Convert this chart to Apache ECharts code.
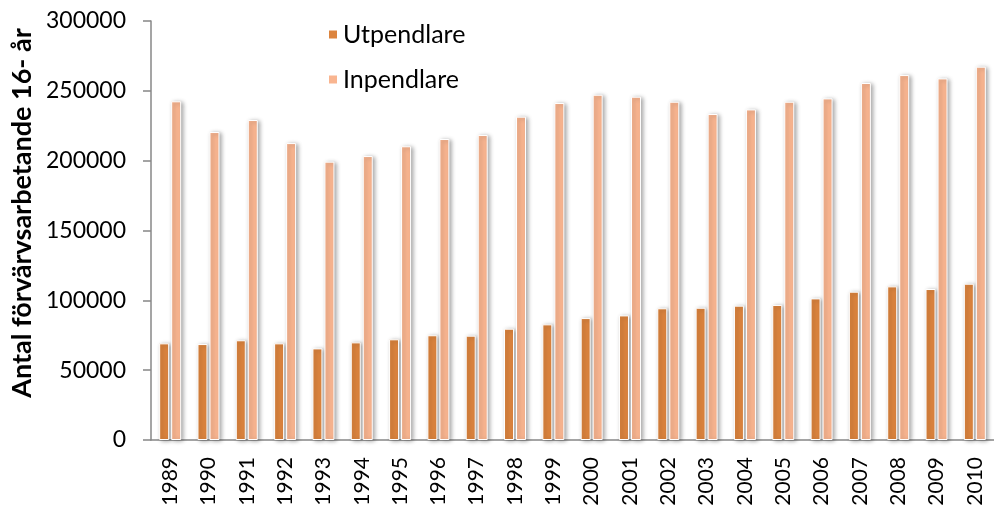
<!DOCTYPE html>
<html>
<head>
<meta charset="utf-8">
<script src="https://cdn.jsdelivr.net/npm/echarts@6/dist/echarts.min.js"></script>
<style>
html, body { margin: 0; padding: 0; background: #fff; }
#main { width: 994px; height: 509px; }
</style>
</head>
<body>
<div id="main"></div>
<script>
// kategorier (år)
var years = ['1989', '1990', '1991', '1992', '1993', '1994', '1995', '1996', '1997', '1998', '1999',
    '2000', '2001', '2002', '2003', '2004', '2005', '2006', '2007', '2008', '2009', '2010'];

// Utpendlare
var utpendlare = [69200, 68700, 71400, 69200, 65600, 69900, 72100, 75000, 74700, 79700, 82800,
    87300, 89200, 94300, 94700, 96200, 96700, 101400, 106200, 110000, 108100, 111900];

// Inpendlare
var inpendlare = [242500, 220500, 229100, 212600, 199300, 203300, 210300, 215500, 218400, 231500, 241300,
    247200, 245800, 242200, 233400, 236700, 242200, 244600, 255600, 261300, 258900, 267300];

var yTicks = [0, 50000, 100000, 150000, 200000, 250000, 300000];

var fontName = 'Lato';
var axisGray = '#878787';

var myChart = echarts.init(document.getElementById('main'));

function barStyle(color) {
    return {
        color: color,
        borderColor: '#ffffff',
        borderWidth: 1,
        shadowBlur: 4,
        shadowOffsetX: 2,
        shadowOffsetY: 1,
        shadowColor: 'rgba(0,0,0,0.35)'
    };
}

var option = {
    animation: false,
    backgroundColor: '#ffffff',
    textStyle: { fontFamily: fontName },
    grid: {
        left: 151,
        right: -10,
        top: 21,
        bottom: 69
    },
    legend: {
        orient: 'vertical',
        left: 322,
        top: 17,
        itemWidth: 10,
        itemHeight: 10,
        itemGap: 20,
        icon: 'rect',
        textStyle: { fontFamily: fontName, fontSize: 25, color: '#000' },
        data: ['Utpendlare', 'Inpendlare']
    },
    graphic: [{
        type: 'text',
        x: 22,
        y: 213,
        rotation: Math.PI / 2,
        style: {
            text: 'Antal förvärvsarbetande 16- år',
            font: 'bold 27px ' + fontName,
            fill: '#000',
            align: 'center',
            verticalAlign: 'middle'
        }
    }],
    xAxis: {
        type: 'category',
        data: years,
        axisLine: { lineStyle: { color: axisGray, width: 1.5 } },
        axisTick: { length: 8, lineStyle: { color: axisGray, width: 1.5 } },
        axisLabel: {
            rotate: 90,
            margin: 17,
            interval: 0,
            fontSize: 21,
            color: '#000',
            fontFamily: fontName
        }
    },
    yAxis: {
        type: 'value',
        min: yTicks[0],
        max: yTicks[yTicks.length - 1],
        interval: yTicks[1] - yTicks[0],
        splitLine: { show: false },
        axisLine: { show: true, lineStyle: { color: axisGray, width: 1.5 } },
        axisTick: { show: true, length: 8, lineStyle: { color: axisGray, width: 1.5 } },
        axisLabel: {
            margin: 25,
            fontSize: 23,
            color: '#000',
            fontFamily: fontName,
            formatter: function(v) { return String(v); }
        }
    },
    series: [{
        name: 'Utpendlare',
        type: 'bar',
        barWidth: 10,
        barGap: '20%',
        itemStyle: barStyle('#DC843E'),
        data: utpendlare
    }, {
        name: 'Inpendlare',
        type: 'bar',
        barWidth: 10,
        barGap: '20%',
        itemStyle: barStyle('#F9B590'),
        data: inpendlare
    }]
};

myChart.setOption(option);
</script>
</body>
</html>
